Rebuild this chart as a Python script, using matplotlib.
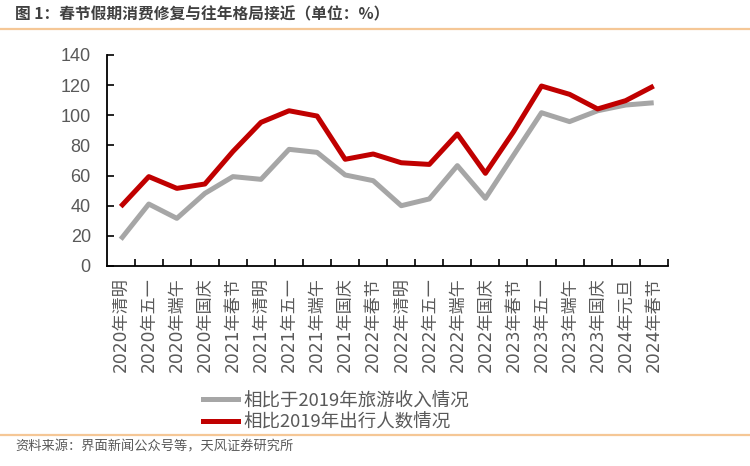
#!/usr/bin/env python3

import matplotlib
matplotlib.use("Agg")
import matplotlib.pyplot as plt
from matplotlib.lines import Line2D

plt.rcParams["font.family"] = ["Noto Sans CJK SC", "DejaVu Sans"]

# Data
holidays = [
    "2020年清明", "2020年五一", "2020年端午", "2020年国庆",
    "2021年春节", "2021年清明", "2021年五一", "2021年端午", "2021年国庆",
    "2022年春节", "2022年清明", "2022年五一", "2022年端午", "2022年国庆",
    "2023年春节", "2023年五一", "2023年端午", "2023年国庆",
    "2024年元旦", "2024年春节",
]
tourism_income = [
    17.7, 41.1, 31.6, 48.2,
    59.3, 57.5, 77.4, 75.4, 60.4,
    56.6, 40.0, 44.5, 66.6, 44.9,
    73.4, 101.7, 95.8, 103.0,
    106.8, 108.3,
]
trips = [
    39.4, 59.3, 51.5, 54.4,
    76.0, 95.3, 103.0, 99.5, 70.8,
    74.3, 68.5, 67.4, 87.6, 61.5,
    89.0, 119.4, 113.9, 104.2,
    109.7, 119.4,
]
label_income = "相比于2019年旅游收入情况"
label_trips = "相比2019年出行人数情况"

GRAY = "#A6A6A6"
RED = "#C00000"
TEXT = "#595959"
ORANGE = "#F5C796"

fig = plt.figure(figsize=(7.5, 4.66), dpi=100)
ax = fig.add_axes([0.1423, 0.4292, 0.7480, 0.4528])

x = list(range(len(holidays)))
ax.plot(x, tourism_income, color=GRAY, linewidth=3.6, solid_capstyle="butt")
ax.plot(x, trips, color=RED, linewidth=3.6, solid_capstyle="butt")

ax.set_xlim(-0.5, len(holidays) - 0.5)
ax.set_ylim(0, 140)
ax.set_yticks(range(0, 141, 20))
# tick marks sit between categories, labels are drawn at the points
ax.set_xticks([i + 0.5 for i in range(len(holidays))])
ax.set_xticklabels([])
ax.tick_params(axis="x", direction="in", length=5, width=1.2, color="black")
ax.tick_params(axis="y", direction="in", length=5, width=1.2, color="black",
               labelsize=13, labelcolor=TEXT, pad=11.5)
for lab in ax.get_yticklabels():
    lab.set_family(["Liberation Sans", "DejaVu Sans"])

for side in ["top", "right"]:
    ax.spines[side].set_visible(False)
for side in ["left", "bottom"]:
    ax.spines[side].set_linewidth(1.3)
    ax.spines[side].set_color("black")

label_y = -11 / (0.4528 * 466)  # 11 px below the axis, in axes units
for i, name in enumerate(holidays):
    ax.text(i, label_y, name, transform=ax.get_xaxis_transform(),
            ha="center", va="top", rotation=90, fontsize=12.3, color=TEXT,
            family=["DejaVu Sans", "Noto Sans CJK SC"])

handles = [
    Line2D([], [], color=GRAY, linewidth=3.6),
    Line2D([], [], color=RED, linewidth=3.6),
]
fig.legend(handles, [label_income, label_trips], loc="upper left",
           bbox_to_anchor=(0.2707, 0.159), bbox_transform=fig.transFigure,
           frameon=False, fontsize=13.3, labelcolor=TEXT, handlelength=1.9,
           handletextpad=0.3, borderpad=0, borderaxespad=0, labelspacing=0.2)

# Title, separators and source note
fig.text(0.02, 1 - 14 / 466, "图 1：春节假期消费修复与往年格局接近（单位：%）",
         ha="left", va="center", fontsize=11.3, fontweight="bold", color="#404040")
fig.add_artist(Line2D([0, 1], [1 - 29 / 466] * 2, color=ORANGE, linewidth=1.6,
                      transform=fig.transFigure))
fig.add_artist(Line2D([0, 1], [1 - 435 / 466] * 2, color=ORANGE, linewidth=1.6,
                      transform=fig.transFigure))
fig.text(0.02, 1 - 447 / 466, "资料来源：界面新闻公众号等，天风证券研究所",
         ha="left", va="center", fontsize=9.5, color=TEXT)

fig.savefig("out.png", dpi=100)
